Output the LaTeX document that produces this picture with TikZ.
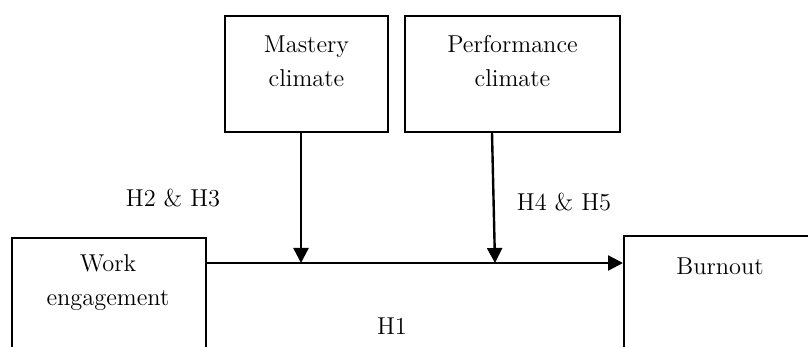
\documentclass[tikz,border=0pt]{standalone}
\usetikzlibrary{arrows.meta,calc}
\tikzset{
  box/.style={draw, line width=0.85pt, inner sep=0pt},
  lbl/.style={font=\fontsize{12.2}{17}\selectfont, align=center, inner sep=0pt},
  arr/.style={line width=1.2pt, -{Triangle[length=7.5pt,width=7.5pt]}}
}
\begin{document}
\begin{tikzpicture}[x=0.5pt,y=-0.5pt]
            \useasboundingbox (0,0) rectangle (808,347);
            \clip (0,0) rectangle (808,347);
            \node[box, minimum width=81.5pt, minimum height=58pt] at (306.5,74) (mastery) {};
            \node[box, minimum width=107.5pt, minimum height=58pt] at (512.5,74) (perf) {};
            \node[box, minimum width=97pt, minimum height=75pt, anchor=north west] at (11,237) (work) {};
            \node[box, minimum width=97pt, minimum height=75pt, anchor=north west] at (623,235) (burnout) {};
            \node[lbl] at (306.5,61) (masterytxt) {Mastery\\climate};
            \node[lbl] at (512.5,61) (perftxt) {Performance\\climate};
            \node[lbl] at (108,283) (worktxt) {Work\\engagement};
            \node[lbl] at (720,266) (burnouttxt) {Burnout};
            \node[lbl] at (173,198) (hmastery) {H2 \& H3};
            \node[lbl] at (564,202) (hperf) {H4 \& H5};
            \node[lbl] at (392,326) (hmain) {H1};
            \coordinate (joinm) at (301,263);
            \coordinate (joinp) at (495,263);
            \draw[arr] (work.east |- joinm) -- (burnout.west |- joinm);
            \draw[arr] (mastery.south -| joinm) -- (joinm);
            \draw[arr] ($(perf.south)+(-20.5,0)$) -- (joinp);
        \end{tikzpicture}
\end{document}
